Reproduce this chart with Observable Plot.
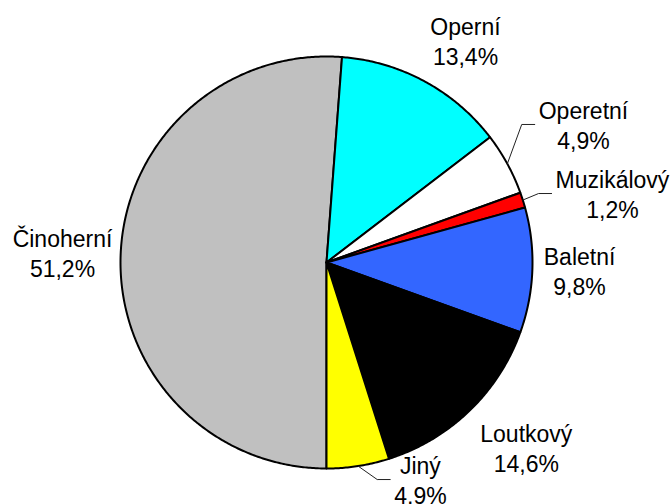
<!DOCTYPE html>
<html>
<head>
<meta charset="utf-8">
<script src="https://cdn.jsdelivr.net/npm/d3@7"></script>
<script src="https://cdn.jsdelivr.net/npm/@observablehq/plot@0.6"></script>
<style>
  html, body { margin: 0; padding: 0; background: #fff; }
  #chart svg { display: block; }
</style>
</head>
<body>
<div id="chart"></div>
<script>
// ---- data ----
const categories = ["Činoherní", "Operní", "Operetní", "Muzikálový", "Baletní", "Loutkový", "Jiný"];
const shares = [51.2, 13.4, 4.9, 1.2, 9.8, 14.6, 4.9];
const percentLabels = ["51,2%", "13,4%", "4,9%", "1,2%", "9,8%", "14,6%", "4,9%"];
const colors = ["#C0C0C0", "#00FFFF", "#FFFFFF", "#FF0000", "#3366FF", "#000000", "#FFFF00"];

// ---- label layout (polar, in pie-radius units, degrees clockwise from 12 o'clock) ----
const labelAngle = [272.2, 32.05, 61.76, 76.44, 91.8, 132.8, 156.6];
const labelRadius = [1.2825, 1.2715, 1.416, 1.428, 1.229, 1.322, 1.148];
const hasLeader = [false, false, true, true, false, false, true];

const W = 672, H = 504;
const R = 206, CX = 326, CY = 262;
const FONT = 23;
const FONT_FAMILY = "Liberation Sans, Arial, sans-serif";

const rows = categories.map((name, i) => ({name, v: shares[i], pct: percentLabels[i], i}));
const arcs = d3.pie().value(d => d.v).sort(null).startAngle(Math.PI).endAngle(3 * Math.PI)(rows);

// slice polygons
const slicePts = [];
for (const a of arcs) {
  const name = a.data.name;
  slicePts.push({name, x: 0, y: 0});
  const n = Math.max(2, Math.ceil((a.endAngle - a.startAngle) / (Math.PI / 360)));
  for (let k = 0; k <= n; k++) {
    const t = a.startAngle + (a.endAngle - a.startAngle) * k / n;
    slicePts.push({name, x: Math.sin(t), y: -Math.cos(t)});
  }
}

// text measurement
const ctx = document.createElement("canvas").getContext("2d");
ctx.font = `${FONT}px ${FONT_FAMILY}`;

const labels = arcs.map(a => {
  const i = a.data.i;
  const t = labelAngle[i] * Math.PI / 180;
  const text = a.data.name + "\n" + a.data.pct;
  const w = Math.max(ctx.measureText(a.data.name).width, ctx.measureText(a.data.pct).width) / R;
  return {name: a.data.name, text, x: labelRadius[i] * Math.sin(t), y: -labelRadius[i] * Math.cos(t), w, a, i};
});

const leaderPts = [];
for (const l of labels) {
  if (!hasLeader[l.i]) continue;
  const mid = (l.a.startAngle + l.a.endAngle) / 2;
  const endX = l.x - l.w / 2 - 4 / R;
  leaderPts.push({name: l.name, x: Math.sin(mid), y: -Math.cos(mid)});
  leaderPts.push({name: l.name, x: endX - 13 / R, y: l.y});
  leaderPts.push({name: l.name, x: endX, y: l.y});
}

const chart = Plot.plot({
  width: W,
  height: H,
  margin: 0,
  style: {background: "#fff"},
  x: {domain: [-CX / R, (W - CX) / R], range: [0, W], axis: null},
  y: {domain: [-CY / R, (H - CY) / R], range: [0, H], axis: null},
  color: {domain: categories, range: colors},
  marks: [
    Plot.line(slicePts, {x: "x", y: "y", z: "name", fill: "name", stroke: "#000", strokeWidth: 2,
      strokeLinejoin: "round", curve: "linear-closed"}),
    Plot.line(leaderPts, {x: "x", y: "y", z: "name", stroke: "#222", strokeWidth: 1}),
    Plot.text(labels, {x: "x", y: "y", text: "text", fontSize: FONT, lineHeight: 1.3,
      fontFamily: FONT_FAMILY, fill: "#000", textAnchor: "middle"})
  ]
});
document.getElementById("chart").appendChild(chart);
</script>
</body>
</html>
